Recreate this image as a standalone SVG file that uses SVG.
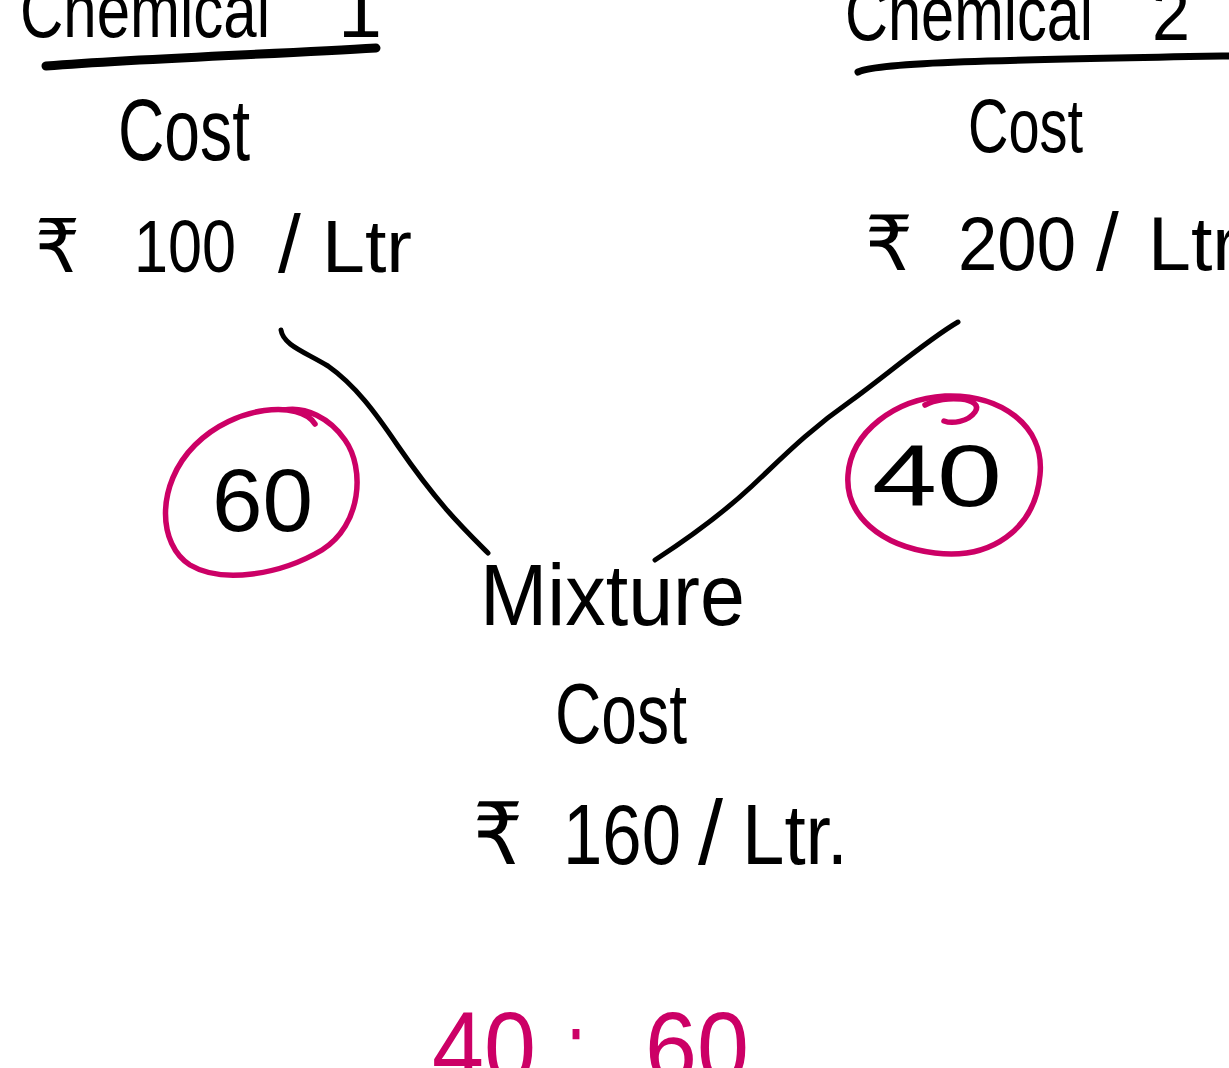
<svg xmlns="http://www.w3.org/2000/svg" width="1229" height="1068" viewBox="0 0 1229 1068">
  <style>
    .ink { font-family: "Liberation Sans", "DejaVu Sans", "Noto Sans", sans-serif; fill: #000; }
    .pink { font-family: "Liberation Sans", "DejaVu Sans", "Noto Sans", sans-serif; fill: #CC0066; }
    .line { fill: none; stroke: #000; stroke-linecap: round; stroke-linejoin: round; }
    .ring { fill: none; stroke: #CC0066; stroke-width: 5.5; stroke-linecap: round; stroke-linejoin: round; }
  </style>
  <rect width="1229" height="1068" fill="#fff"/>

  <!-- Chemical 1 heading -->
  <g id="chemical1">
    <text class="ink" font-size="76" y="37">
      <tspan x="20" textLength="250" lengthAdjust="spacingAndGlyphs">Chemical</tspan>
      <tspan x="338" textLength="44" lengthAdjust="spacingAndGlyphs">1</tspan>
    </text>
    <path class="line" stroke-width="9" d="M46,66 C 150,58 280,54 376,48"/>
    <text class="ink" font-size="88" x="118" y="160" textLength="132" lengthAdjust="spacingAndGlyphs">Cost</text>
    <text class="ink" font-size="74" y="272">
      <tspan x="35" textLength="45" lengthAdjust="spacingAndGlyphs">₹</tspan>
      <tspan x="134" textLength="102" lengthAdjust="spacingAndGlyphs">100</tspan>
      <tspan x="278" font-size="82">/</tspan>
      <tspan x="322" textLength="90" lengthAdjust="spacingAndGlyphs">Ltr</tspan>
    </text>
  </g>

  <!-- Chemical 2 heading -->
  <g id="chemical2">
    <text class="ink" font-size="76" y="40">
      <tspan x="845" textLength="248" lengthAdjust="spacingAndGlyphs">Chemical</tspan>
      <tspan x="1152" textLength="38" lengthAdjust="spacingAndGlyphs">2</tspan>
    </text>
    <path class="line" stroke-width="7" d="M858,72 C 880,62 1000,60 1229,56"/>
    <text class="ink" font-size="76" x="968" y="152" textLength="115" lengthAdjust="spacingAndGlyphs">Cost</text>
    <text class="ink" font-size="76" y="270">
      <tspan x="865" textLength="48" lengthAdjust="spacingAndGlyphs">₹</tspan>
      <tspan x="958" textLength="118" lengthAdjust="spacingAndGlyphs">200</tspan>
      <tspan x="1096" font-size="82">/</tspan>
      <tspan x="1148" textLength="90" lengthAdjust="spacingAndGlyphs">Ltr</tspan>
    </text>
  </g>

  <!-- ratio share of chemical 1 -->
  <g id="share1">
    <path class="ring" d="M315,424 C 300,400 235,405 195,445 C 155,485 158,545 190,565 C 222,584 280,575 322,550 C 362,525 365,468 345,440 C 330,418 305,406 284,410"/>
    <text class="ink" font-size="89" x="212" y="531" textLength="101" lengthAdjust="spacingAndGlyphs">60</text>
  </g>

  <!-- ratio share of chemical 2 -->
  <g id="share2">
    <path class="ring" d="M925,405 C 945,394 985,398 975,412 C 968,422 952,424 944,421"/>
    <path class="ring" d="M945,396 C 1000,394 1045,425 1040,475 C 1035,530 990,560 935,553 C 880,546 845,515 848,475 C 851,432 895,399 945,396"/>
    <text class="ink" font-size="88" x="872" y="506" textLength="130" lengthAdjust="spacingAndGlyphs">40</text>
  </g>

  <!-- mixture -->
  <g id="mixture">
    <text class="ink" font-size="87" x="480" y="625" textLength="265" lengthAdjust="spacingAndGlyphs">Mixture</text>
    <text class="ink" font-size="85" x="555" y="743" textLength="132" lengthAdjust="spacingAndGlyphs">Cost</text>
    <text class="ink" font-size="86" y="864">
      <tspan x="473" textLength="50" lengthAdjust="spacingAndGlyphs">₹</tspan>
      <tspan x="563" textLength="118" lengthAdjust="spacingAndGlyphs">160</tspan>
      <tspan x="698" font-size="90">/</tspan>
      <tspan x="742" textLength="106" lengthAdjust="spacingAndGlyphs">Ltr.</tspan>
    </text>
  </g>

  <!-- final ratio -->
  <g id="ratio">
    <text class="pink" font-size="100" y="1082">
      <tspan x="432" textLength="104" lengthAdjust="spacingAndGlyphs">40</tspan>
      <tspan x="566" textLength="20" lengthAdjust="spacingAndGlyphs">:</tspan>
      <tspan x="645" textLength="104" lengthAdjust="spacingAndGlyphs">60</tspan>
    </text>
  </g>

  <!-- connectors -->
  <g id="connectors">
    <path class="line" stroke-width="5" d="M281,330 C 283,345 305,352 328,366 C 355,385 375,412 398,446 C 438,504 462,527 488,553"/>
    <path class="line" stroke-width="5" d="M958,322 C 930,338 885,376 852,400 C 805,433 780,460 752,486 C 722,514 692,536 655,560"/>
  </g>
</svg>
